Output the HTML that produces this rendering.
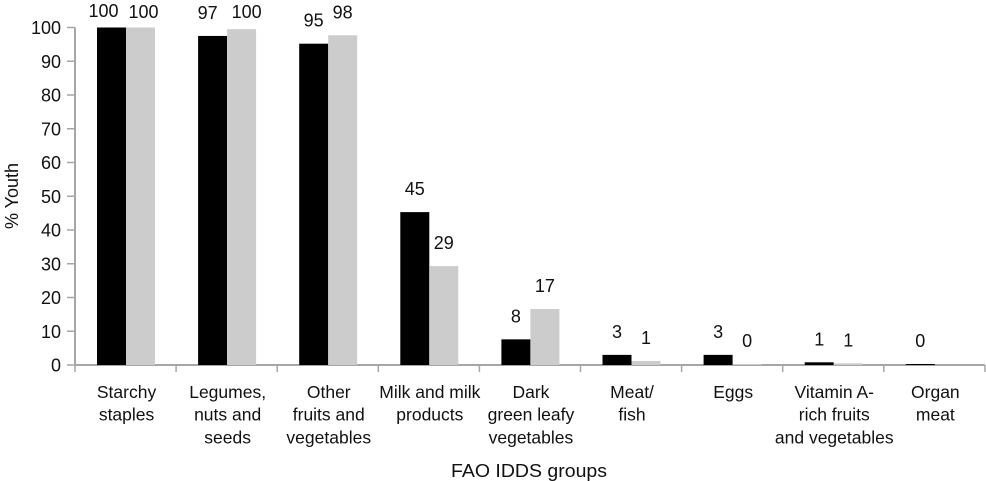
<!DOCTYPE html>
<html>
<head>
<meta charset="utf-8">
<style>
html,body{margin:0;padding:0;background:#fff;width:986px;height:481px;overflow:hidden}
svg{display:block}
text{font-family:"Liberation Sans",sans-serif;font-size:18px;fill:#111}
</style>
</head>
<body>
<svg id="chart" width="986" height="481" viewBox="0 0 986 481" xmlns="http://www.w3.org/2000/svg">
  <g id="grid-ticks"></g>
  <g id="axes"></g>
  <g id="bars"></g>
  <g id="labels"></g>
  <text transform="translate(18,196) rotate(-90)" text-anchor="middle">% Youth</text>
  <text x="529" y="477" text-anchor="middle" textLength="156" lengthAdjust="spacingAndGlyphs">FAO IDDS groups</text>
</svg>
<script>
const categories = [
  ["Starchy","staples"],
  ["Legumes,","nuts and","seeds"],
  ["Other","fruits and","vegetables"],
  ["Milk and milk","products"],
  ["Dark","green leafy","vegetables"],
  ["Meat/","fish"],
  ["Eggs"],
  ["Vitamin A-","rich fruits","and vegetables"],
  ["Organ","meat"]
];
const seriesA = [100, 97.5, 95.2, 45.3, 7.6, 3, 3, 0.8, 0.3];
const seriesB = [100, 99.5, 97.7, 29.3, 16.6, 1.2, 0.3, 0.5, 0];
const printedA = ["100","97","95","45","8","3","3","1","0"];
const printedB = ["100","100","98","29","17","1","0","1",""];
const yTicks = [0,10,20,30,40,50,60,70,80,90,100];

const NS = "http://www.w3.org/2000/svg";
const X0 = 75, STEP = 101.1, Y0 = 365, Y100 = 27.5, BAR = 29, PAD = 22;
const nudgeA = [-8,-5,0,0,0,0,0,0,0];
const nudgeB = [3,5,0,0,0,0,0,0,0];
function xBand(i){ return X0 + i * STEP; }
function yVal(v){ return Y0 - (Y0 - Y100) * v / 100; }
function mk(tag, attrs, parent, txt){
  const el = document.createElementNS(NS, tag);
  for (const k in attrs) el.setAttribute(k, attrs[k]);
  if (txt !== undefined) el.textContent = txt;
  parent.appendChild(el);
  return el;
}
const gTicks = document.getElementById("grid-ticks");
const gBars = document.getElementById("bars");
const gAxes = document.getElementById("axes");
const gLabels = document.getElementById("labels");
const AXIS = "#a6a6a6";

yTicks.forEach(function(t){
  const y = yVal(t);
  const tick = mk("line", {x1:67, x2:X0, y1:y, y2:y, stroke:AXIS, "stroke-width":1.5}, gTicks);
  
  
  const lab = mk("text", {x:61, y:y+6.5, "text-anchor":"end"}, gLabels, String(t));
  
  
});

categories.forEach(function(lines, i){
  const xa = xBand(i) + PAD, xb = xa + BAR;
  const ya = yVal(seriesA[i]), yb = yVal(seriesB[i]);
  const ra = mk("rect", {x:xa, y:ya, width:BAR, height:Y0 - ya, fill:"#000"}, gBars);
  
  
  const rb = mk("rect", {x:xb, y:yb, width:BAR, height:Y0 - yb, fill:"#cccccc"}, gBars);
  
  

  const la = mk("text", {x:xa + BAR/2 + nudgeA[i], y:Math.max(17, ya - 17), "text-anchor":"middle"}, gLabels, printedA[i]);
  
  
  if (printedB[i] !== "") {
    const lb = mk("text", {x:xb + BAR/2 + nudgeB[i], y:Math.max(18, yb - 17), "text-anchor":"middle"}, gLabels, printedB[i]);
    
    
  }

  const cx = xBand(i) + STEP / 2 + 1;
  lines.forEach(function(line, j){
    const c = mk("text", {x:cx, y:398 + j * 22.7, "text-anchor":"middle", style:"font-size:17.5px"}, gLabels, line);
    
    
  });
});

for (let i = 0; i <= categories.length; i++) {
  const x = xBand(i);
  const tick = mk("line", {x1:x, x2:x, y1:Y0, y2:372, stroke:AXIS, "stroke-width":1.5}, gTicks);
  
  
}
const yAxis = mk("line", {x1:X0, x2:X0, y1:Y100, y2:Y0, stroke:AXIS, "stroke-width":2}, gAxes);


const xAxis = mk("line", {x1:X0, x2:xBand(categories.length), y1:Y0, y2:Y0, stroke:AXIS, "stroke-width":2}, gAxes);


</script>
</body>
</html>
